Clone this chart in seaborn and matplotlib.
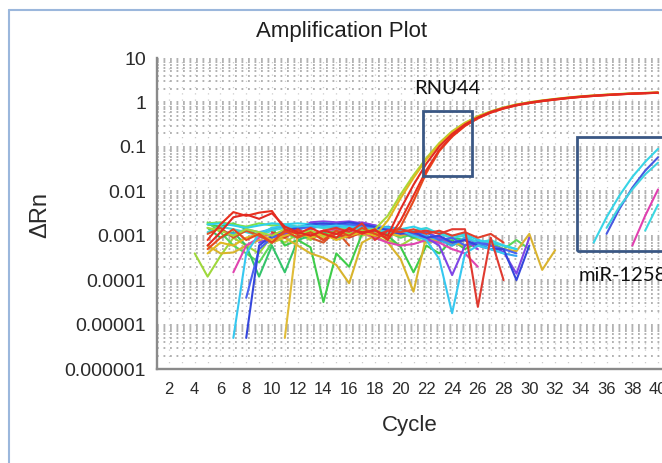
import matplotlib
matplotlib.use("Agg")
import matplotlib.pyplot as plt
import matplotlib.ticker as mticker
from matplotlib.patches import Rectangle
from matplotlib.lines import Line2D
import pandas as pd
import seaborn as sns

sns.set_theme(style="white")
plt.rcParams['font.family'] = ['Liberation Sans', 'DejaVu Sans']

# ---------------- data ----------------
cycle_ticks = list(range(2, 41, 2))
y_ticks = [1e-6, 1e-5, 1e-4, 1e-3, 1e-2, 1e-1, 1, 10]
y_tick_labels = ["0.000001", "0.00001", "0.0001", "0.001", "0.01", "0.1", "1", "10"]

# RNU44 wells (start at cycle 5)
rnu44_d = [1.5e-3, 1.3e-3, 1.0e-3, 1.4e-3, 1.2e-3, 1.0e-3, 1.4e-3, 1.1e-3, 1.3e-3, 1.0e-3,
           1.2e-3, 1.1e-3, 1.3e-3, 1.4e-3, 2.8e-3, 8.5e-3, 2.3e-2, 5.6e-2, 1.22e-1, 2.25e-1,
           3.5e-1, 4.9e-1, 6.3e-1, 7.7e-1, 9.0e-1, 1.01, 1.11, 1.20, 1.29, 1.37,
           1.44, 1.50, 1.55, 1.60, 1.64, 1.68]
rnu44_e = [4e-4, 7e-4, 6e-4, 9e-4, 1.1e-3, 8e-4, 1.0e-3, 1.2e-3, 9e-4, 1.1e-3,
           8e-4, 1.0e-3, 1.2e-3, 1.0e-3, 2.2e-3, 7.0e-3, 2.0e-2, 5.2e-2, 1.15e-1, 2.15e-1,
           3.4e-1, 4.8e-1, 6.2e-1, 7.6e-1, 8.9e-1, 1.00, 1.10, 1.19, 1.28, 1.36,
           1.43, 1.49, 1.54, 1.59, 1.63, 1.67]
rnu44_a = [6e-4, 1.2e-3, 2.6e-3, 3.0e-3, 2.4e-3, 3.2e-3, 1.6e-3, 1.2e-3, 1.0e-3, 1.3e-3,
           1.1e-3, 1.4e-3, 1.2e-3, 1.3e-3, 1.0e-3, 4.0e-3, 1.4e-2, 4.2e-2, 1.02e-1, 1.95e-1,
           3.2e-1, 4.6e-1, 6.1e-1, 7.5e-1, 8.8e-1, 9.9e-1, 1.09, 1.18, 1.27, 1.35,
           1.42, 1.48, 1.53, 1.58, 1.62, 1.66]
rnu44_b = [8e-4, 1.8e-3, 3.4e-3, 2.8e-3, 3.3e-3, 3.6e-3, 1.4e-3, 1.1e-3, 1.5e-3, 1.1e-3,
           9e-4, 1.5e-3, 1.1e-3, 1.4e-3, 8e-4, 2.2e-3, 8.0e-3, 3.0e-2, 8.5e-2, 1.75e-1,
           3.0e-1, 4.4e-1, 5.9e-1, 7.3e-1, 8.6e-1, 9.7e-1, 1.07, 1.16, 1.25, 1.33,
           1.40, 1.46, 1.52, 1.57, 1.61, 1.65]
rnu44_c = [5e-4, 9e-4, 1.4e-3, 8e-4, 1.1e-3, 7e-4, 1.3e-3, 9e-4, 1.2e-3, 8e-4,
           1.3e-3, 1.0e-3, 1.5e-3, 1.1e-3, 9e-4, 1.6e-3, 6.0e-3, 2.6e-2, 8.0e-2, 1.7e-1,
           2.95e-1, 4.4e-1, 5.9e-1, 7.3e-1, 8.6e-1, 9.7e-1, 1.07, 1.16, 1.25, 1.33,
           1.40, 1.46, 1.52, 1.57, 1.61, 1.65]

# baseline / undetected wells
yg_a = [4e-4, 1.2e-4, 3.5e-4, 9e-4, 6e-4, 4e-4, 1.0e-3, 7e-4, 1.1e-3, 8e-4,
        1.2e-3, 9e-4, 1.3e-3, 1.0e-3, 1.2e-3, 8e-4, 6e-4, 9e-4, 7e-4, 8e-4]          # from 4
green_a = [1.8e-3, 1.6e-3, 1.9e-3, 1.4e-3, 1.0e-3, 1.5e-3, 6e-4, 8e-4, 5.5e-4, 3.2e-5,
           4e-4, 2e-4, 1.1e-3, 1.3e-3, 1.0e-3, 5.6e-4, 1.5e-4, 6e-4, 4e-4, 8e-4,
           5e-4, 7e-4, 6e-4]                                                            # from 5
green_b = [2.0e-3, 1.2e-3, 6e-4, 4e-4, 2.5e-4, 7e-4, 1.1e-3, 9e-4, 1.2e-3, 1.0e-3,
           1.4e-3, 1.1e-3, 1.3e-3, 1.0e-3, 1.2e-3, 9e-4, 1.1e-3, 8e-4, 9e-4, 6e-4,
           8e-4, 6e-4, 7e-4, 5e-4, 8e-4, 5e-4]                                          # from 5
green_c = [1.5e-3, 9e-4, 1.2e-3, 6e-4, 1.2e-4, 6e-4, 1.5e-4, 8e-4, 1.0e-3, 1.2e-3,
           9e-4, 1.1e-3, 1.3e-3, 1.5e-3, 1.1e-3, 1.2e-3, 9e-4, 1.0e-3, 7e-4, 9e-4,
           8e-4]                                                                        # from 5
lime_a = [1.9e-3, 2.0e-3, 1.8e-3, 1.6e-3, 1.9e-3, 1.7e-3, 1.8e-3, 1.6e-3, 1.7e-3, 1.5e-3,
          1.6e-3, 1.4e-3, 1.5e-3, 1.3e-3, 1.2e-3, 1.1e-3]                              # from 5
yellow_a = [6e-4, 4e-4, 4.2e-4, 6e-4, 8e-4, 7e-4, 9e-4, 6e-4, 4e-4, 3.2e-4,
            2.2e-4, 8.5e-5, 7e-4, 1.0e-3, 7e-4, 3e-4, 5.5e-5, 1.0e-3, 7e-4]           # from 5
yellow_b = [5e-6, 1.1e-3, 1.3e-3, 9e-4, 1.2e-3, 1.0e-3, 1.1e-3, 9e-4]                # from 11
yellow_c = [1.1e-3, 1.0e-3, 1.2e-3, 8e-4, 9e-4, 7e-4, 6e-4, 8e-4, 6e-4, 5e-4,
            4.5e-4, 1.1e-3, 1.7e-4, 4.7e-4]                                             # from 19
cyan_a = [1.8e-3, 1.9e-3, 1.7e-3, 1.5e-3, 1.7e-3, 1.9e-3, 1.8e-3, 1.9e-3, 1.8e-3, 1.9e-3,
          1.8e-3, 1.9e-3, 1.7e-3, 1.6e-3, 1.5e-3, 1.4e-3, 1.6e-3, 1.3e-3, 1.2e-3, 1.0e-3,
          1.1e-3, 8e-4, 7e-4, 6e-4, 5e-4]                                               # from 5
cyan_b = [5e-6, 4e-4, 1.1e-3, 1.5e-3, 1.7e-3, 1.6e-3, 1.7e-3, 1.6e-3, 1.7e-3, 1.6e-3,
          1.5e-3, 1.4e-3, 1.2e-3, 1.3e-3, 1.0e-3, 8e-4, 3e-4, 1.8e-5, 4e-4, 6e-4,
          5e-4, 4e-4]                                                                   # from 7
cyan_c = [1.2e-3, 1.6e-3, 1.4e-3, 1.2e-3, 1.0e-3, 1.3e-3, 1.5e-3, 1.4e-3, 1.6e-3, 1.5e-3,
          1.6e-3, 1.5e-3, 1.4e-3, 1.3e-3, 1.4e-3, 1.2e-3, 1.3e-3, 1.5e-3, 1.1e-3, 9e-4,
          1.0e-3, 7e-4, 8e-4, 6e-4, 5e-4]                                               # from 5
sky_a = [1.3e-3, 1.1e-3, 1.4e-3, 1.2e-3, 1.4e-3, 1.6e-3, 1.5e-3, 1.7e-3, 1.6e-3, 1.5e-3,
         1.7e-3, 1.6e-3, 1.5e-3, 1.6e-3, 1.4e-3, 1.2e-3, 1.0e-3, 8e-4, 6e-4, 9e-4,
         7e-4, 5e-4, 4e-4, 3.5e-4]                                                      # from 6
blue_a = [5e-6, 6e-4, 1.0e-3, 1.3e-3, 1.5e-3, 1.8e-3, 1.9e-3, 1.8e-3, 2.0e-3, 1.8e-3,
          1.6e-3, 1.3e-3, 1.1e-3, 1.2e-3, 9e-4, 1.0e-3, 7e-4, 8e-4, 6e-4, 5e-4,
          5e-4, 1.0e-4, 6e-4]                                                           # from 8
blue_b = [4e-5, 5e-4, 9e-4, 1.2e-3, 1.4e-3, 1.6e-3, 1.7e-3, 1.6e-3, 1.8e-3, 1.7e-3,
          1.5e-3, 1.4e-3, 1.3e-3, 1.1e-3, 1.2e-3, 8e-4, 9e-4, 6e-4, 7e-4, 6e-4,
          5e-4, 4e-4]                                                                   # from 8
purple_a = [7e-4, 9e-4, 1.1e-3, 1.3e-3, 2.0e-3, 2.1e-3, 2.0e-3, 2.1e-3, 1.9e-3, 1.7e-3,
            1.4e-3, 1.2e-3, 1.0e-3, 9e-4, 6e-4, 1.3e-4, 6e-4, 8e-4, 6e-4, 4.3e-4,
            1.4e-4, 9e-4]                                                               # from 9
purple_b = [1.0e-3, 1.4e-3, 1.8e-3, 1.9e-3, 1.8e-3, 2.0e-3, 1.7e-3, 1.5e-3, 1.3e-3, 1.1e-3,
            1.2e-3, 9e-4, 7e-4, 8e-4, 5e-4]                                             # from 12
magenta_a = [1.5e-4, 6e-4, 9e-4, 1.1e-3, 1.0e-3, 1.2e-3, 1.1e-3, 1.3e-3, 1.4e-3, 1.3e-3,
             1.2e-3, 9e-4, 7e-4, 6e-4, 6.5e-4, 8e-4, 7e-4, 5e-4, 4e-4, 2e-4]           # from 7
orange_a = [1.1e-3, 1.5e-3, 9e-4, 1.3e-3, 1.0e-3, 7e-4, 1.2e-3, 1.3e-3, 9e-4, 7e-4,
            1.3e-3, 6e-4]                                                               # from 5
red_n_a = [1.2e-3, 9e-4, 1.4e-3, 1.0e-3, 1.3e-3, 1.5e-3, 1.2e-3, 1.9e-3, 8e-4, 1.3e-3,
           1.4e-3, 1.2e-3, 1.3e-3, 1.1e-3, 1.4e-3, 1.4e-3, 2.5e-5, 9e-4, 1.0e-4]       # from 10
red_n_b = [1.0e-3, 1.2e-3, 8e-4, 1.1e-3, 9e-4, 1.2e-3, 1.0e-3, 1.3e-3, 1.2e-3, 1.4e-3,
           1.1e-3, 1.3e-3, 1.0e-3, 1.2e-3, 9e-4, 1.1e-3, 7e-4]                          # from 12

# miR-1258 wells (inset box)
mir_cyan_a = [7e-4, 2.6e-3, 8e-3, 2.1e-2, 4.6e-2, 9e-2]     # from 35
mir_blue = [1.1e-3, 4e-3, 1.2e-2, 2.9e-2, 5.8e-2]           # from 36
mir_cyan_b = [1.5e-3, 4.5e-3, 1.1e-2, 2.4e-2, 4.4e-2]       # from 36
mir_magenta = [6e-4, 2.8e-3, 1.1e-2]                        # from 38
mir_cyan_c = [1.3e-3, 5e-3]                                 # from 39

# (name, first cycle, values)
wells = [
    ("yg_a", 4, yg_a), ("green_a", 5, green_a), ("green_b", 5, green_b),
    ("green_c", 5, green_c), ("lime_a", 5, lime_a), ("yellow_a", 5, yellow_a),
    ("yellow_b", 11, yellow_b), ("yellow_c", 19, yellow_c),
    ("magenta_a", 7, magenta_a), ("purple_b", 12, purple_b), ("purple_a", 9, purple_a),
    ("sky_a", 6, sky_a), ("cyan_c", 5, cyan_c), ("cyan_a", 5, cyan_a),
    ("blue_b", 8, blue_b), ("blue_a", 8, blue_a), ("cyan_b", 7, cyan_b),
    ("orange_a", 5, orange_a), ("red_n_b", 12, red_n_b), ("red_n_a", 10, red_n_a),
    ("rnu44_d", 5, rnu44_d), ("rnu44_e", 5, rnu44_e),
    ("rnu44_c", 5, rnu44_c), ("rnu44_b", 5, rnu44_b), ("rnu44_a", 5, rnu44_a),
    ("mir_cyan_a", 35, mir_cyan_a), ("mir_blue", 36, mir_blue), ("mir_cyan_b", 36, mir_cyan_b),
    ("mir_magenta", 38, mir_magenta), ("mir_cyan_c", 39, mir_cyan_c),
]

colors = {
    "yg_a": "#9fd83c", "green_a": "#3fcc4a", "green_b": "#5bd85a", "green_c": "#34c46a",
    "lime_a": "#7ee04a", "yellow_a": "#d8b42c", "yellow_b": "#e0bc38", "yellow_c": "#dab430",
    "magenta_a": "#e044b0", "purple_b": "#9a3ad8", "purple_a": "#7f45e6",
    "sky_a": "#36a6f0", "cyan_c": "#3cd6d8", "cyan_a": "#2fd2ea", "blue_b": "#4a62f0",
    "blue_a": "#3446dc", "cyan_b": "#36c8f0", "orange_a": "#d9552a",
    "red_n_b": "#e2402c", "red_n_a": "#e03a30",
    "rnu44_d": "#a8d838", "rnu44_e": "#e0b820", "rnu44_c": "#e64a1e",
    "rnu44_b": "#e8301e", "rnu44_a": "#e22a22",
    "mir_cyan_a": "#38d4e6", "mir_blue": "#4858e0", "mir_cyan_b": "#40d2e0",
    "mir_magenta": "#e040b0", "mir_cyan_c": "#3cd8e0",
}

rows = []
for name, start, vals in wells:
    for i, v in enumerate(vals):
        rows.append((name, start + i, v))
df = pd.DataFrame(rows, columns=["well", "cycle", "dRn"])

# ---------------- figure ----------------
W, H = 662, 463
fig = plt.figure(figsize=(W / 100, H / 100), dpi=100)
fig.patch.set_facecolor("white")
ax = fig.add_axes([157 / W, 1 - 369 / H, (W - 157) / W, (369 - 58) / H])
ax.set_yscale("log")

for name, start, vals in wells:
    sub = df[df["well"] == name]
    sns.lineplot(data=sub, x="cycle", y="dRn", color=colors[name], linewidth=1.5,
                 estimator=None, sort=False, ax=ax, legend=False)

ax.set_xlim(1.067, 40.31)
ax.set_ylim(1e-6, 10)

# grid
ax.yaxis.set_major_locator(mticker.FixedLocator(y_ticks))
ax.yaxis.set_major_formatter(mticker.FixedFormatter(y_tick_labels))
ax.yaxis.set_minor_locator(mticker.LogLocator(base=10, subs=range(2, 10), numticks=100))
ax.yaxis.set_minor_formatter(mticker.NullFormatter())
ax.xaxis.set_major_locator(mticker.FixedLocator(cycle_ticks))
ax.xaxis.set_minor_locator(mticker.MultipleLocator(1))
ax.grid(True, which="both", axis="y", color="#ababab", linewidth=1.3, linestyle=(0, (1, 2.6)))
ax.grid(True, which="both", axis="x", color="#cccccc", linewidth=0.9, linestyle=(0, (1, 4)))
ax.set_axisbelow(True)

for s in ["top", "right"]:
    ax.spines[s].set_visible(False)
for s in ["left", "bottom"]:
    ax.spines[s].set_color("#8a8a8a")
    ax.spines[s].set_linewidth(1.7)

ax.tick_params(axis="x", which="major", direction="out", length=4, width=1.1, color="#8a8a8a",
               labelsize=12, labelcolor="#2a2a2a", pad=5)
ax.tick_params(axis="y", which="major", direction="out", length=3, width=1.1, color="#8a8a8a",
               labelsize=14, labelcolor="#2a2a2a", pad=5)
ax.tick_params(axis="both", which="minor", length=0)
for lab in ax.get_xticklabels():
    lab.set_family(["Liberation Sans Narrow", "Liberation Sans", "DejaVu Sans"])

ax.set_xlabel("Cycle", fontsize=16, color="#2a2a2a")
ax.set_ylabel("ΔRn", fontsize=17, color="#2a2a2a")
ax.yaxis.set_label_coords(-(157 - 40) / (W - 157), (369 - 215) / (369 - 58))
ax.xaxis.set_label_coords(0.5, -(425 - 369) / (369 - 58))
ax.xaxis.label.set_verticalalignment("center")
ax.yaxis.label.set_verticalalignment("center")

fig.text(342 / W, 1 - 32 / H, "Amplification Plot", ha="center", va="center",
         fontsize=16, color="#1e1e1e")

# annotation boxes
box_col = "#3a5784"
ax.add_patch(Rectangle((21.76, 0.0224), 25.52 - 21.76, 0.65 - 0.0224, fill=False,
                       edgecolor=box_col, linewidth=2.0, zorder=5))
ax.add_patch(Rectangle((33.68, 4.5e-4), 41.5 - 33.68, 0.17 - 4.5e-4, fill=False,
                       edgecolor=box_col, linewidth=2.0, zorder=5, clip_on=False))
ann_font = ["Lato", "Open Sans", "DejaVu Sans"]
ax.text(23.6, 2.1, "RNU44", ha="center", va="center", fontsize=14.5,
        family=ann_font, color="#111111", zorder=6)
ax.text(33.8, 1.3e-4, "miR-1258", ha="left", va="center", fontsize=14.5,
        family=ann_font, color="#111111", zorder=6, clip_on=False)

# outer frame of the source panel
frame_col = "#9bb7dc"
fig.add_artist(Line2D([9 / W, 9 / W], [0, 1 - 10 / H], color=frame_col, linewidth=1.5,
                      transform=fig.transFigure))
fig.add_artist(Line2D([9 / W, 1], [1 - 10 / H, 1 - 10 / H], color=frame_col, linewidth=1.5,
                      transform=fig.transFigure))

fig.savefig("out.png", dpi=100, facecolor="white")
